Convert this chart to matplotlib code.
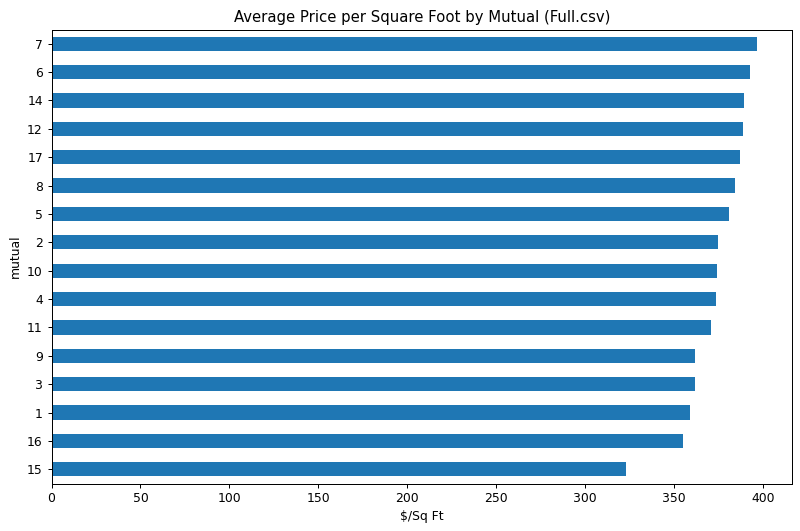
import matplotlib
matplotlib.use("Agg")
import matplotlib.pyplot as plt
import numpy as np

# mutual ids, bottom to top (ascending average price)
mutuals = ["15", "16", "1", "3", "9", "11", "4", "10", "2", "5", "8", "17", "12", "14", "6", "7"]
price_per_sqft = [322.9, 354.8, 358.8, 361.5, 361.9, 370.6, 373.7, 374.1, 374.7,
                  380.8, 384.2, 386.8, 388.7, 389.3, 392.5, 396.4]

dpi = 89
fig, ax = plt.subplots(figsize=(800 / dpi, 531 / dpi), dpi=dpi)
y = np.arange(len(mutuals))
ax.barh(y, price_per_sqft, height=0.5, color="#1f77b4")
ax.set_yticks(y)
ax.set_yticklabels(mutuals)
ax.set_ylim(-0.5, len(mutuals) - 0.5)
ax.set_xlim(0, max(price_per_sqft) * 1.05)
ax.set_xlabel("$/Sq Ft")
ax.set_ylabel("mutual")
ax.set_title("Average Price per Square Foot by Mutual (Full.csv)")

fig.subplots_adjust(left=51.5 / 800, right=792 / 800, top=1 - 29.5 / 531, bottom=1 - 483.5 / 531)
plt.savefig("out.png")
